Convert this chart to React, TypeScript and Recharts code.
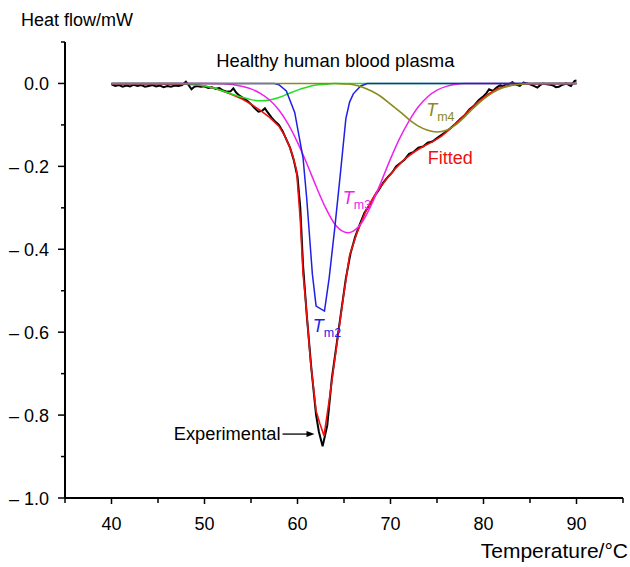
import React from 'react';
import { LineChart, Line, XAxis, YAxis, ReferenceDot, Label } from 'recharts';

const FONT = '"Liberation Sans", Arial, Helvetica, sans-serif';

// Temperature ticks (°C) and heat-flow ticks (mW)
const xTicks = [35, 40, 45, 50, 55, 60, 65, 70, 75, 80, 85, 90, 95];
const xLabelled = [40, 50, 60, 70, 80, 90];
const yTicks = [-1.0, -0.9, -0.8, -0.7, -0.6, -0.5, -0.4, -0.3, -0.2, -0.1, 0.0, 0.1];
const yLabelled = ['-1.0', '-0.8', '-0.6', '-0.4', '-0.2', '0.0'];

// [temperature, heat flow]
const experimental: [number, number][] = [
  [40.0, -0.002], [40.4, -0.006], [40.8, -0.004], [41.2, -0.008], [41.6, -0.005], [42.0, -0.007],
  [42.4, -0.003], [42.8, -0.006], [43.2, -0.004], [43.6, -0.008], [44.0, -0.006], [44.4, -0.004],
  [44.8, -0.007], [45.2, -0.005], [45.6, -0.009], [46.0, -0.006], [46.4, -0.008], [46.8, -0.005],
  [47.2, -0.006], [47.6, -0.004], [48.0, 0.004], [48.3, -0.004], [48.6, -0.014], [48.9, -0.008],
  [49.2, -0.006], [49.6, -0.008], [50.0, -0.007], [50.4, -0.011], [50.8, -0.009], [51.2, -0.013],
  [51.6, -0.011], [52.0, -0.017], [52.4, -0.02], [52.8, -0.019], [53.1, -0.012], [53.4, -0.022],
  [53.8, -0.03], [54.2, -0.036], [54.6, -0.042], [55.0, -0.05], [55.4, -0.06], [55.8, -0.068],
  [56.2, -0.066], [56.5, -0.06], [56.8, -0.07], [57.2, -0.082], [57.6, -0.092], [58.0, -0.1],
  [58.4, -0.115], [58.8, -0.135], [59.2, -0.155], [59.6, -0.185], [60.0, -0.225], [60.3, -0.3],
  [60.6, -0.44], [61.0, -0.56], [61.5, -0.69], [62.0, -0.8], [62.3, -0.84], [62.7, -0.875],
  [63.2, -0.825], [63.7, -0.71], [64.2, -0.63], [64.7, -0.55], [65.2, -0.47], [65.7, -0.41],
  [66.2, -0.37], [66.7, -0.34], [67.2, -0.312], [67.7, -0.295], [68.2, -0.275], [68.7, -0.258],
  [69.2, -0.24], [69.7, -0.226], [70.2, -0.214], [70.6, -0.2], [71.0, -0.193], [71.5, -0.184],
  [72.0, -0.17], [72.5, -0.165], [73.0, -0.155], [73.5, -0.152], [74.0, -0.143], [74.5, -0.14],
  [75.0, -0.132], [75.5, -0.124], [76.0, -0.116], [76.5, -0.107], [77.0, -0.097], [77.5, -0.086],
  [78.0, -0.076], [78.5, -0.062], [79.0, -0.053], [79.5, -0.04], [80.0, -0.031], [80.3, -0.024],
  [80.6, -0.014], [81.0, -0.018], [81.4, -0.01], [81.8, -0.004], [82.1, -0.007], [82.4, -0.002],
  [82.8, -0.001], [83.1, 0.003], [83.5, -0.003], [83.9, -0.006], [84.3, 0.002], [84.7, 0.0],
  [85.0, -0.002], [85.4, -0.006], [85.8, -0.01], [86.1, -0.004], [86.4, 0.0], [86.8, -0.002],
  [87.2, -0.003], [87.5, -0.005], [87.8, -0.009], [88.1, -0.008], [88.5, -0.003], [88.9, 0.0],
  [89.2, -0.004], [89.4, -0.006], [89.6, 0.0], [89.8, 0.006], [90.0, 0.007],
];

const fitted: [number, number][] = [
  [40, -0.001], [45, -0.001], [48, -0.002], [49, -0.003], [50, -0.006], [51, -0.011], [52, -0.019],
  [53, -0.027], [54, -0.037], [55, -0.05], [56, -0.065], [57, -0.082], [58, -0.103], [58.6, -0.125],
  [59.1, -0.15], [59.5, -0.175], [59.9, -0.21], [60.3, -0.33], [60.6, -0.46], [60.9, -0.53],
  [61.4, -0.67], [62.0, -0.79], [62.4, -0.82], [62.85, -0.85], [63.5, -0.75], [64.2, -0.635],
  [64.9, -0.52], [65.6, -0.415], [66.4, -0.36], [67.4, -0.305], [68.5, -0.262], [69.5, -0.233],
  [70.5, -0.206], [71.5, -0.183], [72.5, -0.166], [73.5, -0.152], [74.5, -0.141], [75.5, -0.127],
  [76.5, -0.108], [77.5, -0.087], [78.5, -0.064], [79.5, -0.043], [80.5, -0.026], [81.5, -0.013],
  [82.5, -0.006], [83.5, -0.002], [85, -0.001], [90, 0],
];

const tm1: [number, number][] = [
  [40, 0], [47, 0], [48.7, -0.002], [50, -0.006], [51, -0.011], [52, -0.018], [53, -0.026],
  [54, -0.033], [55, -0.039], [56, -0.042], [57, -0.04], [58, -0.034], [59, -0.025], [60, -0.016],
  [61, -0.009], [62, -0.004], [63, -0.002], [64, 0], [90, 0],
];

const tm2: [number, number][] = [
  [40, 0], [57.5, 0], [58, -0.003], [58.8, -0.018], [59.7, -0.07], [60.6, -0.18], [61.0, -0.28],
  [61.6, -0.46], [62.0, -0.537], [62.9, -0.549], [63.4, -0.47], [64.0, -0.35], [64.6, -0.22],
  [65.2, -0.085], [65.6, -0.045], [66.0, -0.025], [66.8, -0.006], [67.5, 0], [90, 0],
];

const tm3: [number, number][] = [
  [40, 0], [50, 0], [52, -0.001], [54, -0.007], [55, -0.013], [56, -0.024], [57, -0.04],
  [58, -0.064], [59, -0.098], [60, -0.142], [61, -0.193], [62, -0.248], [63, -0.299], [64, -0.339],
  [65, -0.358], [65.4, -0.36], [66, -0.356], [67, -0.333], [68, -0.29], [69, -0.237], [70, -0.182],
  [71, -0.132], [72, -0.09], [73, -0.056], [74, -0.032], [75, -0.016], [76, -0.007], [77, -0.002],
  [78, 0], [90, 0],
];

const tm4: [number, number][] = [
  [40, 0], [64, 0], [65, -0.001], [66, -0.003], [67, -0.009], [68, -0.019], [69, -0.032],
  [70, -0.05], [71, -0.068], [72, -0.087], [73, -0.103], [74, -0.113], [75, -0.117], [76, -0.113],
  [77, -0.1], [78, -0.08], [79, -0.058], [80, -0.038], [81, -0.022], [82, -0.011], [83, -0.005],
  [84, -0.002], [85, 0], [90, 0],
];

const toData = (pts: [number, number][]) => pts.map(([t, v]) => ({ t, v }));

const BLACK = '#000000';
const RED = '#f01010';
const GREEN = '#22dd22';
const MAGENTA = '#ee22ee';
const BLUE = '#1f1fe6';
const OLIVE = '#8a8a1e';

const fmtY = (v: number) => {
  const r = Math.round(v * 10) / 10;
  if (r === 0) return '0.0';
  return '\u2013 ' + Math.abs(r).toFixed(1);
};

const XTick = (props: any) => {
  const { x, y, payload } = props;
  const v = payload.value;
  const major = xLabelled.includes(v);
  return (
    <g>
      <line x1={x} y1={y} x2={x} y2={y + (major ? 6 : 5)} stroke="#000" strokeWidth={1.5} />
      {major && (
        <text x={x} y={y + 32} textAnchor="middle" fontSize={18} fontFamily={FONT} fill="#000">
          {v}
        </text>
      )}
    </g>
  );
};

const YTick = (props: any) => {
  const { x, y, payload } = props;
  const v = payload.value;
  const key = (Math.round(v * 10) / 10).toFixed(1);
  const major = yLabelled.includes(key === '-0.0' ? '0.0' : key);
  return (
    <g>
      <line x1={x - (major ? 7 : 4)} y1={y} x2={x} y2={y} stroke="#000" strokeWidth={1.5} />
      {major && (
        <text x={x - 16} y={y + 6.5} textAnchor="end" fontSize={18} fontFamily={FONT} fill="#000">
          {fmtY(v)}
        </text>
      )}
    </g>
  );
};

const textShape =
  (content: React.ReactNode, color: string, size = 18, anchor: 'start' | 'end' = 'start') =>
  (p: any) => (
    <text x={p.cx} y={p.cy} fontSize={size} fontFamily={FONT} fill={color} textAnchor={anchor}>
      {content}
    </text>
  );

const tmLabel = (sub: string, color: string) =>
  textShape(
    <>
      <tspan fontStyle="italic">T</tspan>
      <tspan fontSize={12.5} dy={5}>{sub}</tspan>
    </>,
    color
  );

const arrowShape = (p: any) => (
  <g>
    <line x1={p.cx - 32} y1={p.cy} x2={p.cx - 6} y2={p.cy} stroke="#000" strokeWidth={1.3} />
    <polygon points={`${p.cx},${p.cy} ${p.cx - 8},${p.cy - 3} ${p.cx - 8},${p.cy + 3}`} fill="#000" />
  </g>
);

export default function App() {
  return (
    <div style={{ position: 'absolute', left: 0, top: 0 }}>
      <LineChart width={630} height={567} margin={{ top: 42, right: 7, bottom: 0, left: 0 }}>
        <XAxis
          dataKey="t"
          type="number"
          domain={[35, 95]}
          ticks={xTicks}
          interval={0}
          allowDataOverflow
          height={69}
          tickSize={0}
          tickMargin={0}
          tickLine={false}
          axisLine={{ stroke: '#000', strokeWidth: 2 }}
          tick={<XTick />}
        >
          <Label
            content={(p: any) => (
              <text
                x={p.viewBox.x + p.viewBox.width + 5}
                y={p.viewBox.y + 60}
                textAnchor="end"
                fontSize={21}
                fontFamily={FONT}
                fill="#000"
              >
                Temperature/°C
              </text>
            )}
          />
        </XAxis>
        <YAxis
          dataKey="v"
          type="number"
          domain={[-1.0, 0.1]}
          ticks={yTicks}
          interval={0}
          allowDataOverflow
          width={65}
          tickSize={0}
          tickMargin={0}
          tickLine={false}
          axisLine={{ stroke: '#000', strokeWidth: 2 }}
          tick={<YTick />}
        >
          <Label
            content={(p: any) => (
              <text x={p.viewBox.x + 21} y={p.viewBox.y - 16} fontSize={18} fontFamily={FONT} fill="#000">
                Heat flow/mW
              </text>
            )}
          />
        </YAxis>
        <Line data={toData(experimental)} dataKey="v" type="linear" stroke={BLACK} strokeWidth={2} dot={false} isAnimationActive={false} />
        <Line data={toData(fitted)} dataKey="v" type="linear" stroke={RED} strokeWidth={1.6} dot={false} isAnimationActive={false} />
        <Line data={toData(tm1)} dataKey="v" type="monotone" stroke={GREEN} strokeWidth={1.5} dot={false} isAnimationActive={false} />
        <Line data={toData(tm3)} dataKey="v" type="monotone" stroke={MAGENTA} strokeWidth={1.5} dot={false} isAnimationActive={false} />
        <Line data={toData(tm2)} dataKey="v" type="linear" stroke={BLUE} strokeWidth={1.5} dot={false} isAnimationActive={false} />
        <Line data={toData(tm4)} dataKey="v" type="monotone" stroke={OLIVE} strokeWidth={1.6} dot={false} isAnimationActive={false} />

        <ReferenceDot x={51.26} y={0.039} r={0} shape={textShape('Healthy human blood plasma', '#000', 18.4)} />
        <ReferenceDot x={73.84} y={-0.0795} r={0} shape={tmLabel('m4', OLIVE)} />
        <ReferenceDot x={74.0} y={-0.195} r={0} shape={textShape('Fitted', RED)} />
        <ReferenceDot x={64.87} y={-0.2916} r={0} shape={tmLabel('m3', MAGENTA)} />
        <ReferenceDot x={61.65} y={-0.6007} r={0} shape={tmLabel('m2', BLUE)} />
        <ReferenceDot x={58.17} y={-0.8595} r={0} shape={textShape('Experimental', '#000', 18.3, 'end')} />
        <ReferenceDot x={61.83} y={-0.8458} r={0} shape={arrowShape} />
      </LineChart>
    </div>
  );
}
